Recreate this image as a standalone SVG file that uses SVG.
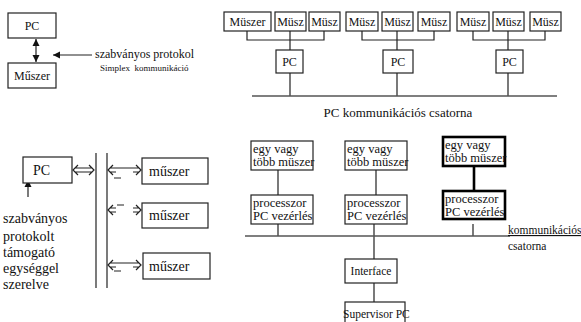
<svg xmlns="http://www.w3.org/2000/svg" width="581" height="322" viewBox="0 0 581 322">
<style>
.b{fill:#fff;stroke:#222;stroke-width:1.2}
.tb{fill:#fff;stroke:#000;stroke-width:2.6}
.l{fill:none;stroke:#222;stroke-width:1.2}
.g{fill:none;stroke:#555;stroke-width:1.6}
text{font-family:"Liberation Serif","Times New Roman",serif;fill:#111}
.s{font-size:12.5px}
</style>
<defs>
<marker id="ah" markerWidth="8" markerHeight="8" refX="7" refY="4" orient="auto-start-reverse" markerUnits="userSpaceOnUse">
<path d="M0,0.5 L7,4 L0,7.5 Z" fill="#111"/>
</marker>
</defs>
<rect width="581" height="322" fill="#fff"/>

<g id="connectors">
<line class="l" x1="36" y1="39" x2="36" y2="62" marker-start="url(#ah)" marker-end="url(#ah)"/>
<line class="l" x1="92" y1="55" x2="53" y2="55" marker-end="url(#ah)"/>
<path class="l" d="M247,31 V40 H324 V31 M290,31 V50 M290,73 V96"/>
<path class="l" d="M362,31 V40 H434 V31 M397,31 V50 M397,73 V96"/>
<path class="l" d="M473,31 V40 H545 V31 M508,31 V50 M508,73 V96"/>
<line class="g" x1="252" y1="96" x2="557" y2="96"/>
<line class="l" x1="28" y1="197" x2="28" y2="180" marker-end="url(#ah)"/>
<line class="l" x1="96" y1="153" x2="96" y2="288"/>
<line class="l" x1="107" y1="153" x2="107" y2="288"/>
<path class="l" d="M78,165 L73,170 L78,175 M89,165 L94,170 L89,175 M75,168 H92 M75,172 H92"/>
<path class="l" d="M113,165 L108,170 L113,175 M136,165 L141,170 L136,175 M110,168 H139 M110,172 H116 M133,172 H139 M114,178 H121"/>
<path class="l" d="M113,205 L108,210 L113,215 M136,205 L141,210 L136,215 M110,208 H116 M110,212 H116 M133,208 H139 M133,212 H139 M117,205 H124"/>
<path class="l" d="M113,260 L108,265 L113,270 M136,260 L141,265 L136,270 M110,263 H139 M110,267 H116 M133,267 H139 M114,271 H121"/>
<path class="l" d="M278,170 V195 M278,224 V236 M376,170 V195 M374,224 V259 M374,283 V302"/>
<line x1="474" y1="166" x2="474" y2="192" stroke="#000" stroke-width="2.6"/>
<line class="l" x1="473" y1="224" x2="473" y2="236"/>
<line class="g" x1="245" y1="236" x2="510" y2="236"/>
</g>

<g id="tl-pc"><rect class="b" x="8" y="13" width="48" height="25"/><text x="32" y="30" font-size="12" text-anchor="middle">PC</text></g>
<g id="tl-muszer"><rect class="b" x="8" y="63" width="48" height="25"/><text x="32" y="80" font-size="12" text-anchor="middle">Műszer</text></g>
<g id="tl-label"><text x="95" y="58" font-size="12">szabványos protokol</text><text x="100" y="71" font-size="9" xml:space="preserve">Simplex  kommunikáció</text></g>

<g id="m1"><rect class="b" x="224" y="12" width="47" height="19"/><text x="247.5" y="26" font-size="12" text-anchor="middle">Müszer</text></g>
<g id="m2"><rect class="b" x="275" y="12" width="31" height="19"/><text x="290.5" y="26" font-size="12" text-anchor="middle">Müsz</text></g>
<g id="m3"><rect class="b" x="309" y="12" width="31" height="19"/><text x="324.5" y="26" font-size="12" text-anchor="middle">Müsz</text></g>
<g id="m4"><rect class="b" x="346" y="12" width="32" height="19"/><text x="362" y="26" font-size="12" text-anchor="middle">Müsz</text></g>
<g id="m5"><rect class="b" x="382" y="12" width="31" height="19"/><text x="397.5" y="26" font-size="12" text-anchor="middle">Müsz</text></g>
<g id="m6"><rect class="b" x="418" y="12" width="32" height="19"/><text x="434" y="26" font-size="12" text-anchor="middle">Müsz</text></g>
<g id="m7"><rect class="b" x="457" y="12" width="32" height="19"/><text x="473" y="26" font-size="12" text-anchor="middle">Müsz</text></g>
<g id="m8"><rect class="b" x="493" y="12" width="31" height="19"/><text x="508.5" y="26" font-size="12" text-anchor="middle">Müsz</text></g>
<g id="m9"><rect class="b" x="530" y="12" width="31" height="19"/><text x="545.5" y="26" font-size="12" text-anchor="middle">Müsz</text></g>
<g id="pc1"><rect class="b" x="276" y="50" width="27" height="23"/><text x="289.5" y="66" font-size="12" text-anchor="middle">PC</text></g>
<g id="pc2"><rect class="b" x="383" y="50" width="30" height="23"/><text x="398" y="66" font-size="12" text-anchor="middle">PC</text></g>
<g id="pc3"><rect class="b" x="496" y="50" width="27" height="23"/><text x="509.5" y="66" font-size="12" text-anchor="middle">PC</text></g>
<g id="tr-label"><text x="398" y="117" font-size="13" text-anchor="middle">PC kommunikációs csatorna</text></g>

<g id="bl-pc"><rect class="b" x="23" y="157" width="49" height="26"/><text x="33" y="175" font-size="14">PC</text></g>
<g id="bl-m1"><rect class="b" x="142" y="158" width="66" height="26"/><text x="149" y="176" font-size="14">műszer</text></g>
<g id="bl-m2"><rect class="b" x="142" y="203" width="66" height="25"/><text x="149" y="220" font-size="14">műszer</text></g>
<g id="bl-m3"><rect class="b" x="143" y="253" width="67" height="26"/><text x="149" y="271" font-size="14">műszer</text></g>
<g id="bl-label">
<text x="3" y="223" font-size="14">szabványos</text>
<text x="3" y="241" font-size="14">protokolt</text>
<text x="3" y="257" font-size="14">támogató</text>
<text x="3" y="273" font-size="14">egységgel</text>
<text x="3" y="289" font-size="14">szerelve</text>
</g>

<g id="br-i1"><rect class="b" x="251" y="141" width="62" height="29"/><text class="s" x="253" y="153">egy vagy</text><text class="s" x="253" y="166">több müszer</text></g>
<g id="br-i2"><rect class="b" x="345" y="141" width="62" height="29"/><text class="s" x="347" y="153">egy vagy</text><text class="s" x="347" y="166">több müszer</text></g>
<g id="br-i3"><rect class="tb" x="443" y="137" width="62" height="29"/><text class="s" x="445" y="149">egy vagy</text><text class="s" x="445" y="162">több müszer</text></g>
<g id="br-p1"><rect class="b" x="251" y="195" width="62" height="29"/><text class="s" x="253" y="207">processzor</text><text class="s" x="253" y="220">PC vezérlés</text></g>
<g id="br-p2"><rect class="b" x="345" y="195" width="62" height="29"/><text class="s" x="347" y="207">processzor</text><text class="s" x="347" y="220">PC vezérlés</text></g>
<g id="br-p3"><rect class="tb" x="443" y="191" width="62" height="28"/><text class="s" x="445" y="203">processzor</text><text class="s" x="445" y="216">PC vezérlés</text></g>
<g id="br-label"><text x="508" y="234" font-size="11.5" text-decoration="underline">kommunikációs</text><text x="508" y="250" font-size="11.5">csatorna</text></g>
<g id="br-if"><rect class="b" x="345" y="259" width="52" height="24"/><text x="371" y="275" font-size="11.5" text-anchor="middle">Interface</text></g>
<g id="br-sv"><rect class="b" x="345" y="302" width="60" height="24"/><text x="343" y="318" font-size="11.5">Supervisor PC</text></g>
</svg>
